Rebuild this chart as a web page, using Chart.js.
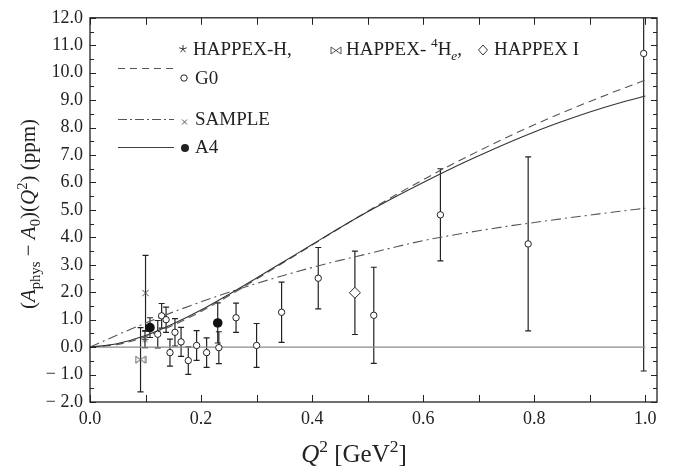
<!DOCTYPE html>
<html>
<head>
<meta charset="utf-8">
<script src="https://cdn.jsdelivr.net/npm/chart.js@4.4.1/dist/chart.umd.min.js"></script>
<style>
    body { margin: 0; background: #ffffff; }
    canvas { display: block; }
</style>
</head>
<body>
<canvas id="ChartCanvas" width="678" height="472"></canvas>
<script>
// Theory curves on a common Q^2 grid
const curveQ2      = [0, 0.05, 0.1, 0.15, 0.2, 0.25, 0.3, 0.35, 0.4, 0.45, 0.5, 0.55, 0.6, 0.65, 0.7, 0.75, 0.8, 0.85, 0.9, 0.95, 1.0];
const curveDashed  = [0, 0.10, 0.38, 0.80, 1.30, 1.87, 2.48, 3.10, 3.72, 4.34, 4.95, 5.54, 6.10, 6.64, 7.15, 7.64, 8.10, 8.54, 8.95, 9.35, 9.73];
const curveDashDot = [0, 0.45, 0.88, 1.28, 1.65, 2.00, 2.32, 2.62, 2.90, 3.16, 3.40, 3.65, 3.88, 4.07, 4.24, 4.40, 4.54, 4.68, 4.81, 4.94, 5.06];
const curveSolid   = [0, 0.13, 0.42, 0.85, 1.35, 1.92, 2.52, 3.13, 3.74, 4.35, 4.93, 5.48, 6.00, 6.50, 6.97, 7.42, 7.84, 8.22, 8.57, 8.88, 9.15];

// Measurements: Q^2, value, error (ppm)
const g0Q2     = [0.122, 0.129, 0.137, 0.144, 0.153, 0.164, 0.177, 0.192, 0.210, 0.232, 0.263, 0.300, 0.345, 0.411, 0.511, 0.631, 0.789, 0.997];
const g0Values = [0.47, 1.14, 1.00, -0.20, 0.54, 0.19, -0.49, 0.06, -0.20, -0.02, 1.07, 0.06, 1.27, 2.51, 1.16, 4.82, 3.76, 10.70];
const g0Errors = [0.50, 0.45, 0.46, 0.49, 0.50, 0.53, 0.50, 0.54, 0.54, 0.58, 0.53, 0.80, 1.10, 1.12, 1.75, 1.68, 3.17, 11.57];

const a4Q2     = [0.108, 0.230];
const a4Values = [0.71, 0.88];
const a4Errors = [0.36, 0.73];

const sampleQ2     = [0.100];
const sampleValues = [1.97];
const sampleErrors = [1.37];

const happexHQ2     = [0.099];
const happexHValues = [0.28];
const happexHErrors = [0.30];

const happexHeQ2     = [0.091];
const happexHeValues = [-0.46];
const happexHeErrors = [1.17];

const happexIQ2     = [0.477];
const happexIValues = [1.98];
const happexIErrors = [1.52];

const zeroLineQ2 = [0, 1.0];

// Axis ticks
const xTicks = [0, 0.2, 0.4, 0.6, 0.8, 1.0];
const xMinorTicks = [0.1, 0.3, 0.5, 0.7, 0.9];
const yTicks = [-2, -1, 0, 1, 2, 3, 4, 5, 6, 7, 8, 9, 10, 11, 12];
const yMinorTicks = [-1.5, -0.5, 0.5, 1.5, 2.5, 3.5, 4.5, 5.5, 6.5, 7.5, 8.5, 9.5, 10.5, 11.5];

const SERIF = '"Liberation Serif", "DejaVu Serif", serif';
const INK = '#222222';

// Small canvas used as the point style for the HAPPEX-4He marker (also drawn in the legend)
function MakeBowtie()
{
    const c = document.createElement('canvas');
    c.width = 12;
    c.height = 9;
    const g = c.getContext('2d');
    g.strokeStyle = '#555';
    g.fillStyle = '#fff';
    g.lineWidth = 1;
    g.beginPath();
    g.moveTo(1, 1); g.lineTo(6, 4.5); g.lineTo(1, 8); g.closePath();
    g.moveTo(11, 1); g.lineTo(6, 4.5); g.lineTo(11, 8); g.closePath();
    g.fill();
    g.stroke();
    return c;
}
const BOWTIE = MakeBowtie();

class AsymmetryChart
{
    constructor()
    {
        this.ChartData();
    }

    // Pair up x and y arrays into {x, y} objects for the scatter scale
    Points(xs, ys)
    {
        return xs.map((x, i) => ({ x: x, y: ys[i] }));
    }

    // Text with italic, subscript and superscript parts
    static DrawRich(ctx, parts, x, y, size, align)
    {
        const fontFor = (p) =>
        {
            const s = (p.sub || p.sup) ? size * 0.7 : size;
            return (p.i ? 'italic ' : '') + s + 'px ' + SERIF;
        };
        let total = 0;
        parts.forEach(p => { ctx.font = fontFor(p); total += ctx.measureText(p.t).width; });
        let cx = align === 'center' ? x - total / 2 : x;
        ctx.textAlign = 'left';
        ctx.textBaseline = 'alphabetic';
        parts.forEach(p =>
        {
            ctx.font = fontFor(p);
            let dy = 0;
            if (p.sub) dy = size * 0.25;
            if (p.sup) dy = -size * 0.4;
            ctx.fillText(p.t, cx, y + dy);
            cx += ctx.measureText(p.t).width;
        });
    }

    ChartData()
    {
        const ctx = document.getElementById('ChartCanvas');

        const errorBars =
        {
            id: 'errorBars',
            beforeDatasetsDraw(chart)
            {
                const c = chart.ctx;
                const a = chart.chartArea;
                const xs = chart.scales.x;
                const ys = chart.scales.y;
                c.save();
                c.beginPath();
                c.rect(a.left, a.top, a.right - a.left, a.bottom - a.top);
                c.clip();
                c.strokeStyle = INK;
                c.lineWidth = 1.2;
                chart.data.datasets.forEach(ds =>
                {
                    if (!ds.errors) return;
                    ds.data.forEach((p, i) =>
                    {
                        const px = xs.getPixelForValue(p.x);
                        const top = ys.getPixelForValue(p.y + ds.errors[i]);
                        const bot = ys.getPixelForValue(p.y - ds.errors[i]);
                        c.beginPath();
                        c.moveTo(px, top); c.lineTo(px, bot);
                        c.moveTo(px - 3, top); c.lineTo(px + 3, top);
                        c.moveTo(px - 3, bot); c.lineTo(px + 3, bot);
                        c.stroke();
                    });
                });
                c.restore();
            }
        };

        const frame =
        {
            id: 'frame',
            afterDraw(chart)
            {
                const c = chart.ctx;
                const a = chart.chartArea;
                const xs = chart.scales.x;
                const ys = chart.scales.y;
                c.save();
                c.strokeStyle = INK;
                c.lineWidth = 1.3;
                c.strokeRect(a.left, a.top, a.right - a.left, a.bottom - a.top);
                c.lineWidth = 1;
                c.beginPath();
                xTicks.concat(xMinorTicks).forEach(v =>
                {
                    const px = Math.round(xs.getPixelForValue(v)) + 0.5;
                    c.moveTo(px, a.bottom); c.lineTo(px, a.bottom - 7);
                    c.moveTo(px, a.top); c.lineTo(px, a.top + 7);
                });
                yTicks.forEach(v =>
                {
                    const py = Math.round(ys.getPixelForValue(v)) + 0.5;
                    c.moveTo(a.left, py); c.lineTo(a.left + 6, py);
                    c.moveTo(a.right, py); c.lineTo(a.right - 6, py);
                });
                yMinorTicks.forEach(v =>
                {
                    const py = Math.round(ys.getPixelForValue(v)) + 0.5;
                    c.moveTo(a.left, py); c.lineTo(a.left + 4, py);
                    c.moveTo(a.right, py); c.lineTo(a.right - 4, py);
                });
                c.stroke();

                // Axis titles
                c.fillStyle = INK;
                AsymmetryChart.DrawRich(c,
                [
                    { t: 'Q', i: true }, { t: '2', sup: true }, { t: ' [GeV' }, { t: '2', sup: true }, { t: ']' }
                ], 354, 462, 25, 'center');

                c.save();
                c.translate(35, 214);
                c.rotate(-Math.PI / 2);
                AsymmetryChart.DrawRich(c,
                [
                    { t: '(' }, { t: 'A', i: true }, { t: 'phys', sub: true }, { t: ' \u2212 ' },
                    { t: 'A', i: true }, { t: '0', sub: true }, { t: ')(' }, { t: 'Q', i: true },
                    { t: '2', sup: true }, { t: ') (ppm)' }
                ], 0, 0, 21, 'center');
                c.restore();
                c.restore();
            }
        };

        const legendBox =
        {
            id: 'legendBox',
            afterDraw(chart)
            {
                const c = chart.ctx;
                c.save();
                c.fillStyle = INK;
                c.strokeStyle = INK;
                const size = 19;

                // Row 1: HAPPEX entries
                c.lineWidth = 0.9;
                c.beginPath();
                for (let k = 0; k < 5; k++)
                {
                    const ang = -Math.PI / 2 + k * 2 * Math.PI / 5;
                    c.moveTo(183, 49);
                    c.lineTo(183 + 4 * Math.cos(ang), 49 + 4 * Math.sin(ang));
                }
                c.stroke();
                AsymmetryChart.DrawRich(c, [{ t: 'HAPPEX-H,' }], 193, 55, size);

                c.drawImage(BOWTIE, 330, 46);
                AsymmetryChart.DrawRich(c,
                [
                    { t: 'HAPPEX- ' }, { t: '4', sup: true }, { t: 'H' }, { t: 'e', sub: true, i: true }, { t: ',' }
                ], 346, 55, size);

                c.beginPath();
                c.moveTo(483, 45); c.lineTo(487.5, 50); c.lineTo(483, 55); c.lineTo(478.5, 50); c.closePath();
                c.stroke();
                AsymmetryChart.DrawRich(c, [{ t: 'HAPPEX I' }], 494, 55, size);

                // Row 2: dashed curve + G0
                c.lineWidth = 1;
                c.strokeStyle = '#555';
                c.setLineDash([7, 5]);
                c.beginPath(); c.moveTo(118, 68.5); c.lineTo(174, 68.5); c.stroke();
                c.setLineDash([]);
                c.strokeStyle = INK;
                c.beginPath(); c.arc(184, 78, 3.2, 0, 2 * Math.PI); c.stroke();
                AsymmetryChart.DrawRich(c, [{ t: 'G0' }], 195, 84, size);

                // Row 3: dash-dot curve + SAMPLE
                c.strokeStyle = '#555';
                c.setLineDash([9, 3, 2, 3]);
                c.beginPath(); c.moveTo(118, 119.5); c.lineTo(174, 119.5); c.stroke();
                c.setLineDash([]);
                c.beginPath();
                c.moveTo(182, 119.5); c.lineTo(187, 124.5);
                c.moveTo(187, 119.5); c.lineTo(182, 124.5);
                c.stroke();
                AsymmetryChart.DrawRich(c, [{ t: 'SAMPLE' }], 195, 125, size);

                // Row 4: solid curve + A4
                c.strokeStyle = '#444';
                c.beginPath(); c.moveTo(118, 147.5); c.lineTo(174, 147.5); c.stroke();
                c.beginPath(); c.arc(185, 148, 4, 0, 2 * Math.PI); c.fill();
                AsymmetryChart.DrawRich(c, [{ t: 'A4' }], 195, 153, size);
                c.restore();
            }
        };

        new Chart(ctx,
        {
            type: 'scatter',
            data:
            {
                datasets:
                [
                    {
                        label: 'HAPPEX I',
                        data: this.Points(happexIQ2, happexIValues),
                        errors: happexIErrors,
                        pointStyle: 'rectRot',
                        pointRadius: 5.5,
                        borderWidth: 1,
                        borderColor: INK,
                        backgroundColor: '#ffffff'
                    },
                    {
                        label: 'HAPPEX-H',
                        data: this.Points(happexHQ2, happexHValues),
                        errors: happexHErrors,
                        pointStyle: 'star',
                        pointRadius: 3.5,
                        borderWidth: 1,
                        borderColor: '#555'
                    },
                    {
                        label: 'HAPPEX-4He',
                        data: this.Points(happexHeQ2, happexHeValues),
                        errors: happexHeErrors,
                        pointStyle: BOWTIE,
                        pointRadius: 5
                    },
                    {
                        label: 'SAMPLE',
                        data: this.Points(sampleQ2, sampleValues),
                        errors: sampleErrors,
                        pointStyle: 'crossRot',
                        pointRadius: 4.5,
                        borderWidth: 1,
                        borderColor: '#555'
                    },
                    {
                        label: 'A4',
                        data: this.Points(a4Q2, a4Values),
                        errors: a4Errors,
                        pointStyle: 'circle',
                        pointRadius: 4.8,
                        borderWidth: 0,
                        backgroundColor: '#111111'
                    },
                    {
                        label: 'G0',
                        data: this.Points(g0Q2, g0Values),
                        errors: g0Errors,
                        pointStyle: 'circle',
                        pointRadius: 3.2,
                        borderWidth: 1,
                        borderColor: INK,
                        backgroundColor: '#ffffff'
                    },
                    {
                        label: 'solid',
                        data: this.Points(curveQ2, curveSolid),
                        showLine: true,
                        pointRadius: 0,
                        borderWidth: 1.1,
                        borderColor: '#333333',
                        cubicInterpolationMode: 'monotone'
                    },
                    {
                        label: 'dashed',
                        data: this.Points(curveQ2, curveDashed),
                        showLine: true,
                        pointRadius: 0,
                        borderWidth: 1.1,
                        borderColor: '#555555',
                        borderDash: [8, 5],
                        cubicInterpolationMode: 'monotone'
                    },
                    {
                        label: 'dash-dot',
                        data: this.Points(curveQ2, curveDashDot),
                        showLine: true,
                        pointRadius: 0,
                        borderWidth: 1.1,
                        borderColor: '#555555',
                        borderDash: [10, 4, 2, 4],
                        cubicInterpolationMode: 'monotone'
                    },
                    {
                        label: 'zero',
                        data: this.Points(zeroLineQ2, [0, 0]),
                        showLine: true,
                        pointRadius: 0,
                        borderWidth: 1.4,
                        borderColor: '#8a8a8a'
                    }
                ]
            },
            options:
            {
                responsive: false,
                animation: false,
                events: [],
                layout: { padding: { top: 14, right: 21, left: 0, bottom: 0 } },
                plugins:
                {
                    legend: { display: false },
                    tooltip: { enabled: false }
                },
                scales:
                {
                    x:
                    {
                        type: 'linear',
                        min: 0,
                        max: 1.021,
                        grid: { display: false, drawTicks: false },
                        border: { display: false },
                        afterBuildTicks: (scale) => { scale.ticks = xTicks.map(v => ({ value: v })); },
                        afterFit: (scale) => { scale.height = 70; },
                        ticks:
                        {
                            padding: 6,
                            color: INK,
                            maxRotation: 0,
                            font: { family: SERIF, size: 18 },
                            callback: (v) => Number(v).toFixed(1)
                        }
                    },
                    y:
                    {
                        type: 'linear',
                        min: -2,
                        max: 12,
                        grid: { display: false, drawTicks: false },
                        border: { display: false },
                        afterBuildTicks: (scale) => { scale.ticks = yTicks.map(v => ({ value: v })); },
                        afterFit: (scale) => { scale.width = 90; },
                        ticks:
                        {
                            padding: 7,
                            color: INK,
                            font: { family: SERIF, size: 18 },
                            callback: (v) => v < 0 ? '\u2212 ' + Math.abs(v).toFixed(1) : Number(v).toFixed(1)
                        }
                    }
                }
            },
            plugins: [errorBars, frame, legendBox]
        });
    }
}

new AsymmetryChart();
</script>
</body>
</html>
